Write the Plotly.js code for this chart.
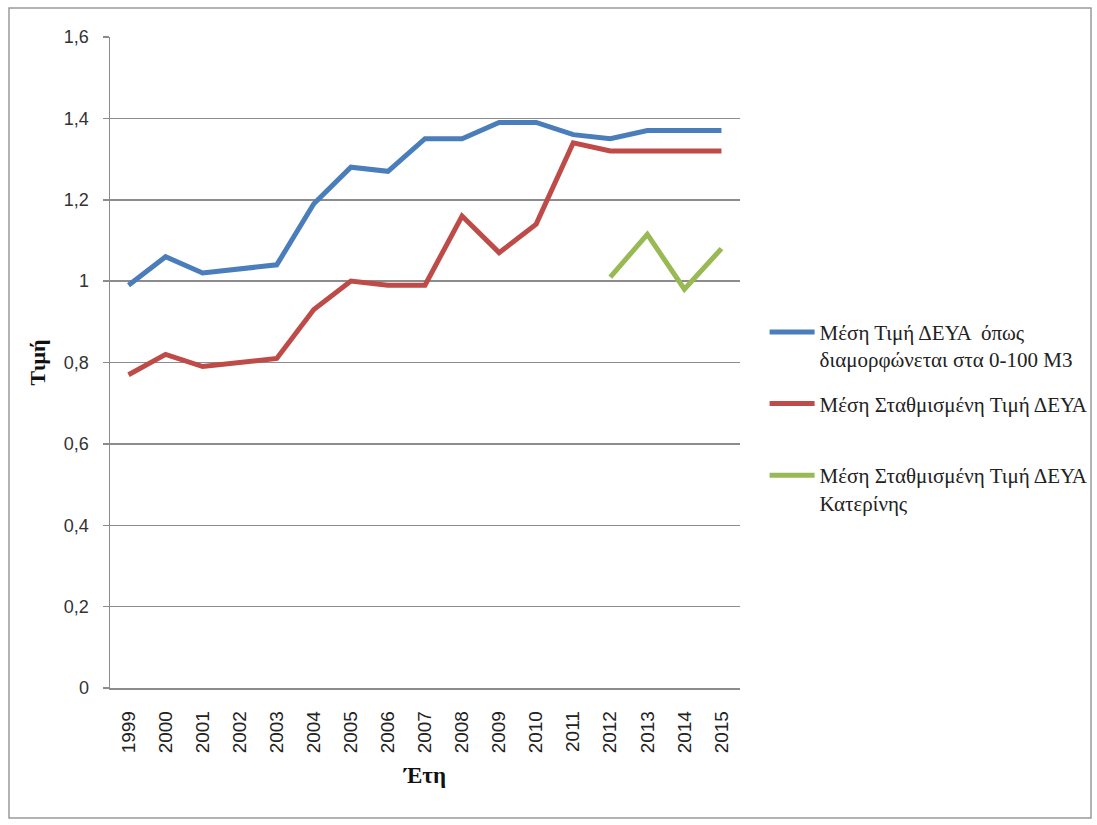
<!DOCTYPE html>
<html>
<head>
<meta charset="utf-8">
<script src="https://cdn.plot.ly/plotly-3.0.1.min.js"></script>
<style>html,body{margin:0;padding:0;background:#fff;}#chart{width:1097px;height:825px;}</style>
</head>
<body>
<div id="chart"></div>
<script>
const years = ["1999","2000","2001","2002","2003","2004","2005","2006","2007","2008","2009","2010","2011","2012","2013","2014","2015"];
const avgPrice = [0.99,1.06,1.02,1.03,1.04,1.19,1.28,1.27,1.35,1.35,1.39,1.39,1.36,1.35,1.37,1.37,1.37];
const weightedPrice = [0.77,0.82,0.79,0.80,0.81,0.93,1.00,0.99,0.99,1.16,1.07,1.14,1.34,1.32,1.32,1.32,1.32];
const katerini = [null,null,null,null,null,null,null,null,null,null,null,null,null,1.01,1.115,0.98,1.08];
const seriesNames = [
  "Μέση Τιμή ΔΕΥΑ  όπως<br>διαμορφώνεται στα 0-100 Μ3",
  "Μέση Σταθμισμένη Τιμή ΔΕΥΑ<br> ",
  "Μέση Σταθμισμένη Τιμή ΔΕΥΑ<br>Κατερίνης"
];
const yTickVals = [0,0.2,0.4,0.6,0.8,1,1.2,1.4,1.6];
const yTickText = ["0","0,2","0,4","0,6","0,8","1","1,2","1,4","1,6"];
const xTitle = "Έτη";
const yTitle = "Τιμή";

const serif = "Liberation Serif";
const sans = "Liberation Sans";
const colors = ["#4a7ebb","#be4b48","#98b954"];
const seriesData = [avgPrice, weightedPrice, katerini];
const traces = seriesData.map((d,i)=>({
  type:"scatter", mode:"lines", x: years, y: d, name: seriesNames[i],
  legendgroup: "g"+i,
  line:{color:colors[i], width:5}, connectgaps:false, hoverinfo:"skip"
}));

const layout = {
  width:1097, height:825,
  margin:{l:110, r:357, t:37, b:137},
  paper_bgcolor:"#ffffff", plot_bgcolor:"#ffffff",
  font:{family:serif, size:21, color:"#222"},
  showlegend:true,
  legend:{
    xref:"container", yref:"container",
    x:0.697, xanchor:"left", y:0.622, yanchor:"top",
    valign:"top", itemwidth:45, tracegroupgap:14,
    font:{family:serif, size:21, color:"#222"},
    bgcolor:"rgba(0,0,0,0)"
  },
  xaxis:{
    type:"category", tickangle:-90, showgrid:false,
    showline:true, linecolor:"#8c8c8c", linewidth:1.5,
    ticks:"", tickfont:{family:sans, size:19, color:"#222"}, ticklabelstandoff:14,
    title:{text:xTitle, font:{family:serif, size:23, weight:"bold", color:"#111"}, standoff:14},
    range:[-0.5,16.5]
  },
  yaxis:{
    range:[0,1.6], tickvals:yTickVals, ticktext:yTickText,
    showgrid:true, gridcolor:"#8c8c8c", gridwidth:1.5,
    showline:true, linecolor:"#8c8c8c", linewidth:1.5,
    ticks:"outside", ticklen:6, tickcolor:"#8c8c8c", tickwidth:1.5,
    tickfont:{family:sans, size:18, color:"#333"}, ticklabelstandoff:10,
    zeroline:false,
    title:{text:yTitle, font:{family:serif, size:22, weight:"bold", color:"#111"}, standoff:12}
  },
  shapes:[{
    type:"rect", xref:"paper", yref:"paper",
    x0:(9-110)/630, x1:(1091-110)/630, y0:(688-818)/651, y1:(688-8)/651,
    line:{color:"#9a9a9a", width:1.5}, fillcolor:"rgba(0,0,0,0)", layer:"below"
  }]
};

Plotly.newPlot("chart", traces, layout, {displayModeBar:false, staticPlot:true});
</script>
</body>
</html>
